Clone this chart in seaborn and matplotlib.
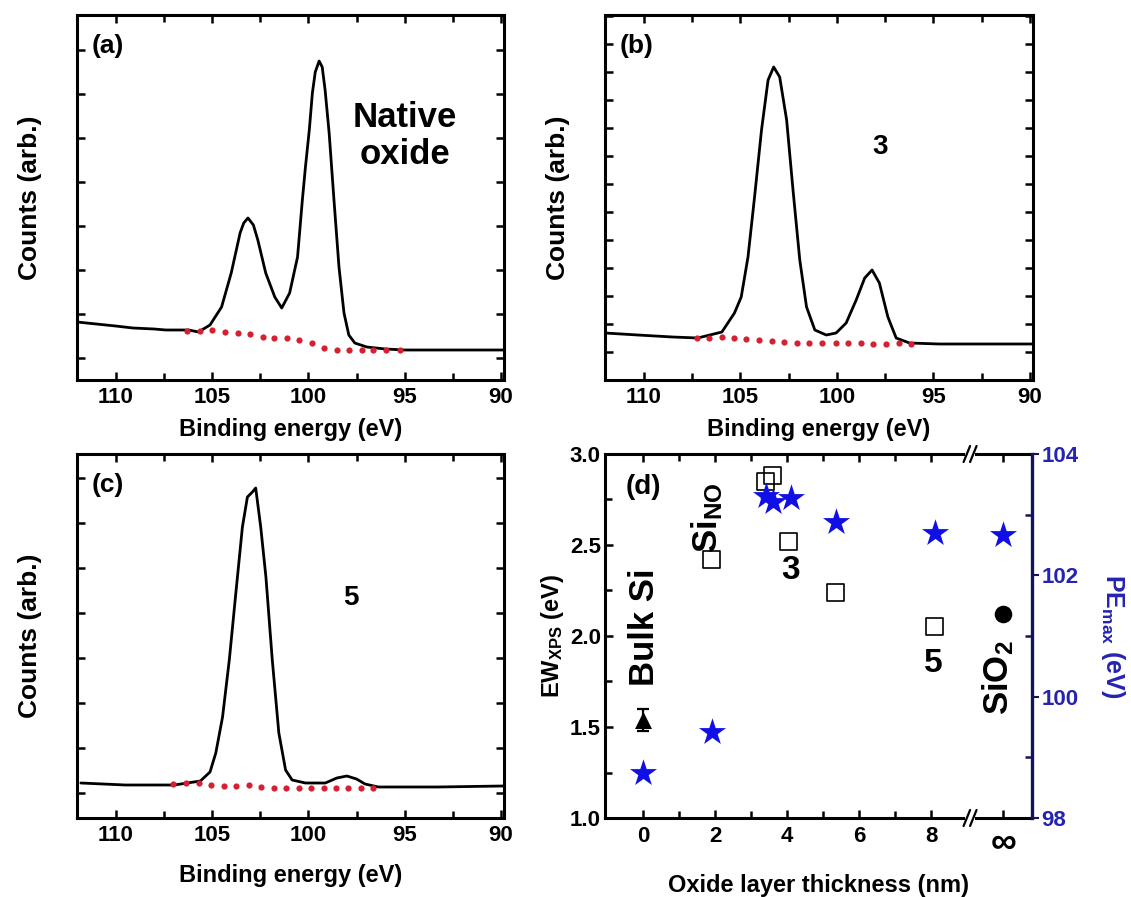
import numpy as np
import pandas as pd
import matplotlib
matplotlib.use('Agg')
import matplotlib.pyplot as plt
import matplotlib.transforms as mtransforms
from matplotlib.ticker import MultipleLocator, FixedLocator
import seaborn as sns

# ---------------- data ----------------
# (a) native oxide
a_energy = [112.0, 111.0, 110.0, 109.1, 108.0, 107.4, 106.2, 105.7, 105.1, 104.5, 104.0,
            103.54, 103.35, 103.13, 102.85, 102.62, 102.21, 101.74, 101.38, 100.97, 100.56,
            100.31, 100.15, 99.95, 99.79, 99.64, 99.44, 99.28, 99.13, 98.92, 98.67, 98.41,
            98.15, 97.9, 97.59, 96.97, 96.0, 95.0, 93.0, 91.0, 89.9]
a_counts = [58, 56, 54, 52, 51, 50, 50, 48, 55, 73, 107,
            147, 157, 162, 155, 140, 107, 83, 72, 87, 123,
            180, 213, 250, 287, 308, 319, 313, 290, 247, 180, 113,
            67, 45, 37, 33, 31, 30, 30, 30, 30]
a_bg_energy = [106.29, 105.61, 105.01, 104.32, 103.64, 103.01, 102.36, 101.76, 101.11,
               100.48, 99.79, 99.19, 98.51, 97.91, 97.23, 96.63, 95.95, 95.27]
a_bg_counts = [49, 49, 50, 48, 47, 46, 43, 42, 42, 40, 37, 32, 30, 30, 30, 30, 30, 30]

# (b) 3 nm
b_energy = [112.0, 110.3, 108.5, 107.2, 105.95, 105.3, 104.95, 104.6, 104.26, 103.9, 103.56,
            103.27, 102.96, 102.6, 102.27, 101.92, 101.57, 101.14, 100.55, 100.04, 99.52,
            99.0, 98.56, 98.18, 97.8, 97.36, 96.93, 96.24, 94.7, 93.0, 91.0, 89.9]
b_counts = [47, 45, 43, 42, 48, 67, 83, 123, 183, 250, 300,
            313, 303, 260, 190, 120, 73, 50, 45, 47, 57,
            80, 102, 110, 97, 63, 42, 37, 36, 36, 36, 36]
b_bg_energy = [107.23, 106.63, 105.97, 105.33, 104.69, 104.03, 103.37, 102.74, 102.04,
               101.44, 100.75, 100.04, 99.45, 98.75, 98.15, 97.46, 96.77, 96.16]
b_bg_counts = [42, 42, 43, 42, 41, 40, 39, 38, 37, 37, 37, 37, 37, 37, 36, 36, 37, 36]

# (c) 5 nm
c_energy = [111.8, 109.5, 106.95, 105.6, 105.1, 104.8, 104.45, 104.1, 103.76, 103.42, 103.16,
            102.9, 102.73, 102.47, 102.2, 101.87, 101.53, 101.18, 100.84, 100.15, 99.12,
            98.52, 98.0, 97.5, 97.06, 96.37, 93.3, 89.9]
c_counts = [35, 33, 33, 37, 46, 65, 101, 158, 225, 291, 321,
            326, 330, 291, 241, 158, 85, 48, 38, 35, 35,
            40, 42, 39, 34, 31, 31, 32]
c_bg_energy = [107.03, 106.34, 105.69, 105.05, 104.36, 103.73, 103.08, 102.44, 101.79,
               101.15, 100.5, 99.85, 99.21, 98.56, 97.93, 97.27, 96.64]
c_bg_counts = [34, 35, 35, 33, 32, 32, 33, 31, 30, 30, 30, 30, 30, 30, 30, 30, 30]

# (d) EW_XPS and PE_max vs oxide thickness (inf plotted at x = 10)
sq_thick = [1.9, 3.4, 3.6, 4.05, 5.35, 8.1]
sq_ew = [2.42, 2.85, 2.88, 2.52, 2.24, 2.05]
tri_thick = [0.0]
tri_ew = [1.54]
tri_err = [0.06]
circ_thick = [10.0]
circ_ew = [2.12]
star_thick = [0.0, 1.9, 3.4, 3.6, 4.1, 5.35, 8.1, 10.0]
star_pe = [98.74, 99.42, 103.30, 103.21, 103.27, 102.88, 102.69, 102.66]
d_xticks = [0, 2, 4, 6, 8, 10]
d_xticklabels = ['0', '2', '4', '6', '8', '\u221e']

# ---------------- style ----------------
sns.set_theme(style='ticks')
plt.rcParams['font.family'] = ['Liberation Sans', 'DejaVu Sans']
plt.rcParams['font.weight'] = 'bold'
plt.rcParams['mathtext.fontset'] = 'custom'
plt.rcParams['mathtext.rm'] = 'Liberation Sans:bold'
plt.rcParams['mathtext.bf'] = 'Liberation Sans:bold'
plt.rcParams['mathtext.it'] = 'Liberation Sans:bold:italic'
plt.rcParams['axes.linewidth'] = 2.2
plt.rcParams['axes.edgecolor'] = 'black'
plt.rcParams['text.color'] = 'black'
plt.rcParams['axes.labelcolor'] = 'black'
plt.rcParams['xtick.color'] = 'black'
plt.rcParams['ytick.color'] = 'black'

RED = '#d42030'
BLUE = '#1010e6'
NAVY = '#14145e'
TBLUE = '#2424b0'

fig = plt.figure(figsize=(11.31, 8.97), dpi=100)
W, H = 1131.0, 897.0


def px_axes(l, t, r, b):
    return fig.add_axes([l / W, 1 - b / H, (r - l) / W, (b - t) / H])


def spectrum(ax, energy, counts, bg_e, bg_c, ylim, base, offset, label, xlabelpad):
    sns.lineplot(x=energy, y=counts, ax=ax, color='black', lw=2.0,
                 estimator=None, sort=False)
    sns.scatterplot(x=bg_e, y=bg_c, ax=ax, color=RED, s=20, marker='o',
                    linewidth=0, zorder=3)
    ax.set_xlim(112.0, 89.85)
    ax.set_ylim(*ylim)
    ax.xaxis.set_major_locator(MultipleLocator(5))
    ax.xaxis.set_minor_locator(MultipleLocator(2.5))
    ax.yaxis.set_major_locator(MultipleLocator(base, offset))
    ax.tick_params(axis='both', which='both', direction='in', top=True, right=True,
                   width=1.8, color='black')
    ax.tick_params(which='major', length=6)
    ax.tick_params(which='minor', length=5)
    ax.tick_params(axis='y', labelleft=False)
    ax.tick_params(axis='x', labelsize=16, pad=5, labelcolor='black')
    for t in ax.get_xticklabels():
        t.set_fontweight('bold')
    ax.set_xlabel('Binding energy (eV)', fontsize=17, fontweight='bold', labelpad=xlabelpad)
    ax.set_ylabel('Counts (arb.)', fontsize=19, fontweight='bold')
    ax.yaxis.set_label_coords(-0.082, 0.5)
    ax.text(0.073, 0.915, label, transform=ax.transAxes, ha='center', va='center',
            fontsize=19, fontweight='bold')


ax_a = px_axes(77, 15, 504, 380)
spectrum(ax_a, a_energy, a_counts, a_bg_energy, a_bg_counts, (0, 365), 44, 22, '(a)', 7)
ax_a.text(94.97, 244, 'Native\noxide', ha='center', va='center', fontsize=25,
          fontweight='bold', linespacing=1.15)

ax_b = px_axes(605, 15, 1033, 380)
spectrum(ax_b, b_energy, b_counts, b_bg_energy, b_bg_counts, (0, 365), 28, 0, '(b)', 7)
ax_b.text(97.75, 233, '3', ha='center', va='center', fontsize=20, fontweight='bold')

ax_c = px_axes(77, 454, 504, 818)
spectrum(ax_c, c_energy, c_counts, c_bg_energy, c_bg_counts, (0, 364), 45, 25, '(c)', 13)
ax_c.text(97.8, 220, '5', ha='center', va='center', fontsize=20, fontweight='bold')

# ---------------- panel (d) ----------------
ax_d = px_axes(605, 454, 1032, 818)
ax_r = ax_d.twinx()

sns.scatterplot(x=sq_thick, y=sq_ew, ax=ax_d, marker='s', s=150,
                facecolors='none', edgecolor='black', linewidth=1.2, zorder=3)
ax_d.errorbar(tri_thick, tri_ew, yerr=tri_err, fmt='none', ecolor='black',
              elinewidth=1.6, capsize=4, capthick=1.6, zorder=3)
sns.scatterplot(x=tri_thick, y=tri_ew, ax=ax_d, marker='^', s=150, color='black',
                linewidth=0, zorder=4)
sns.scatterplot(x=circ_thick, y=circ_ew, ax=ax_d, marker='o', s=160, color='black',
                linewidth=0, zorder=4)
sns.scatterplot(x=star_thick, y=star_pe, ax=ax_r, marker='*', s=420, color=BLUE,
                linewidth=0, zorder=5)

ax_d.set_xlim(-1.06, 10.8)
ax_d.set_ylim(1.0, 3.0)
ax_r.set_ylim(98, 104)

ax_d.xaxis.set_major_locator(FixedLocator(d_xticks))
ax_d.set_xticklabels(d_xticklabels)
ax_d.xaxis.set_minor_locator(FixedLocator([1, 3, 5, 7]))
ax_d.yaxis.set_major_locator(MultipleLocator(0.5))
ax_d.yaxis.set_minor_locator(MultipleLocator(0.25))
ax_d.yaxis.set_major_formatter(matplotlib.ticker.FormatStrFormatter('%.1f'))
ax_d.tick_params(axis='x', which='both', direction='in', top=True, bottom=True,
                 width=1.8, labelsize=16, pad=6, labelcolor='black')
ax_d.tick_params(axis='y', which='both', direction='in', left=True, right=False,
                 width=1.8, labelsize=16, pad=3, labelcolor='black')
ax_d.tick_params(which='major', length=6)
ax_d.tick_params(which='minor', length=5)
for t in ax_d.get_xticklabels():
    t.set_fontweight('bold')
for t in ax_d.get_yticklabels():
    t.set_fontweight('bold')
ax_d.get_xticklabels()[-1].set_fontsize(26)

ax_d.spines['right'].set_visible(False)
for s in ['left', 'top', 'bottom']:
    ax_r.spines[s].set_visible(False)
ax_r.spines['right'].set_color(NAVY)
ax_r.spines['right'].set_linewidth(2.4)
ax_r.yaxis.set_major_locator(MultipleLocator(2))
ax_r.yaxis.set_minor_locator(MultipleLocator(1))
ax_r.tick_params(axis='y', which='major', direction='out', length=5, width=1.5,
                 color=NAVY, labelcolor=TBLUE, labelsize=16, pad=2)
ax_r.tick_params(axis='y', which='minor', direction='in', length=5, width=1.8,
                 color=NAVY)
for t in ax_r.get_yticklabels():
    t.set_fontweight('bold')

ax_d.set_xlabel('Oxide layer thickness (nm)', fontsize=17, fontweight='bold', labelpad=9)
ax_d.set_ylabel(r'EW$_{\mathrm{XPS}}$ (eV)', fontsize=17, fontweight='bold', labelpad=3)
ax_r.set_ylabel(r'PE$_{\mathrm{max}}$ (eV)', fontsize=18, fontweight='bold', color=TBLUE,
                rotation=270, va='bottom')
ax_r.yaxis.set_label_coords(1.158, 0.5)

# axis break marks on top and bottom spines
brk = mtransforms.blended_transform_factory(ax_d.transData, ax_d.transAxes)
for yv in (0.0, 1.0):
    ax_d.plot([8.93, 9.23], [yv, yv], transform=brk, color='white', lw=4,
              clip_on=False, zorder=10, solid_capstyle='butt')
    for xc in (8.99, 9.17):
        ax_d.plot([xc - 0.09, xc + 0.09], [yv - 0.022, yv + 0.022], transform=brk,
                  color='black', lw=1.6, clip_on=False, zorder=11)

# annotations in (d)
ax_d.text(0.0, 2.82, '(d)', ha='center', va='center', fontsize=20, fontweight='bold')
ax_d.text(0.03, 2.05, 'Bulk Si', ha='center', va='center', fontsize=25,
          fontweight='bold', rotation=90)
ax_d.text(1.78, 2.65, r'Si$_{\mathrm{NO}}$', ha='center', va='center', fontsize=25,
          fontweight='bold', rotation=90)
ax_d.text(4.08, 2.36, '3', ha='center', va='center', fontsize=24, fontweight='bold')
ax_d.text(8.05, 1.85, '5', ha='center', va='center', fontsize=24, fontweight='bold')
ax_d.text(9.86, 1.77, r'SiO$_{2}$', ha='center', va='center', fontsize=25,
          fontweight='bold', rotation=90)

fig.savefig('out.png', dpi=100)
